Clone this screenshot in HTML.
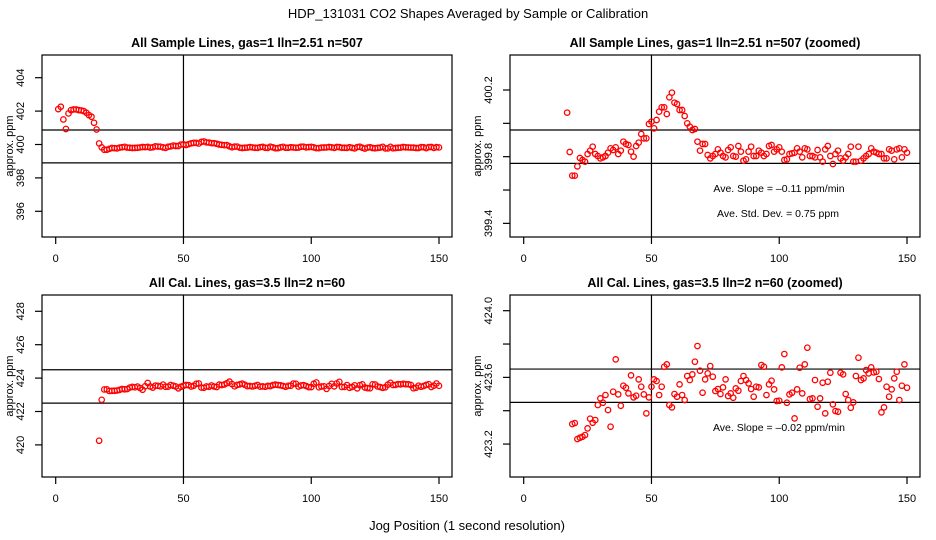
<!DOCTYPE html>
<html><head><meta charset="utf-8">
<style>
html,body{margin:0;padding:0;background:#fff;}
svg{display:block;font-family:"Liberation Sans",Arial,sans-serif;}
</style></head>
<body>
<svg id="chart" width="936" height="540" viewBox="0 0 936 540">
<text x="468" y="18" text-anchor="middle" font-size="13">HDP_131031  CO2 Shapes Averaged by Sample or Calibration</text>
<text x="467" y="530" text-anchor="middle" font-size="13">Jog Position (1 second resolution)</text>
</svg>
<script>
// ---- data ----
const xTicks = [0, 50, 100, 150];
const sampleHead = [402.12,402.26,401.5,400.93,401.86,402.06,402.1,402.1,402.06,402.04,402.0,401.9,401.76,401.66,401.3,400.9];
const sampleTail = [400.064,399.828,399.686,399.686,399.742,399.792,399.78,399.77,399.816,399.836,399.86,399.816,399.804,399.79,399.796,399.804,399.824,399.85,399.84,399.856,399.816,399.836,399.89,399.876,399.87,399.83,399.8,399.864,399.884,399.936,399.91,399.91,399.996,400.01,399.97,400.02,400.07,400.096,400.096,400.056,400.156,400.184,400.124,400.116,400.08,400.08,400.044,400.0,399.98,399.96,399.966,399.89,399.836,399.876,399.876,399.81,399.79,399.804,399.816,399.844,399.824,399.804,399.796,399.84,399.856,399.804,399.8,399.864,399.83,399.776,399.784,399.83,399.86,399.804,399.804,399.836,399.824,399.804,399.816,399.864,399.87,399.83,399.844,399.856,399.83,399.78,399.784,399.816,399.82,399.824,399.85,399.83,399.796,399.85,399.844,399.804,399.804,399.796,399.84,399.796,399.77,399.844,399.864,399.804,399.756,399.816,399.836,399.79,399.776,399.796,399.816,399.86,399.77,399.77,399.86,399.776,399.79,399.804,399.816,399.85,399.83,399.824,399.816,399.816,399.79,399.79,399.844,399.836,399.784,399.844,399.85,399.796,399.844,399.824];
const calHead = [420.25,422.7];
const calTail = [423.32,423.326,423.23,423.238,423.244,423.254,423.294,423.352,423.328,423.344,423.434,423.474,423.448,423.494,423.404,423.304,423.514,423.708,423.498,423.43,423.55,423.538,423.504,423.612,423.48,423.49,423.588,423.544,423.498,423.384,423.48,423.544,423.588,423.578,423.494,423.544,423.664,423.678,423.434,423.42,423.5,423.484,423.558,423.494,423.464,423.608,423.584,423.618,423.694,423.788,423.64,423.508,423.588,423.624,423.668,423.604,423.518,423.53,423.5,423.54,423.588,423.488,423.504,423.478,423.534,423.52,423.578,423.608,423.584,423.564,423.53,423.484,423.544,423.54,423.674,423.664,423.494,423.558,423.58,423.528,423.458,423.46,423.66,423.74,423.448,423.498,423.508,423.354,423.528,423.658,423.504,423.678,423.778,423.47,423.474,423.584,423.424,423.474,423.568,423.384,423.574,423.628,423.438,423.398,423.394,423.628,423.618,423.5,423.464,423.418,423.45,423.608,423.718,423.584,423.594,423.644,423.624,423.66,423.63,423.634,423.59,423.39,423.42,423.544,423.484,423.528,423.594,423.634,423.464,423.55,423.678,423.538];
const tlTicks = [404,402,400,398,396];
const trTicks = [400.2,400.0,399.8,399.6,399.4];
const trTickLabels = ["400.2","","399.8","","399.4"];
const blTicks = [428,426,424,422,420];
const brTicks = [424.0,423.8,423.6,423.4,423.2];
const brTickLabels = ["424.0","","423.6","","423.2"];
const tlRefLines = [400.87, 398.9];
const trRefLines = [399.96, 399.76];
const blRefLines = [424.5, 422.5];
const brRefLines = [423.65, 423.45];

const NS = "http://www.w3.org/2000/svg";
const svg = document.getElementById('chart');
function mk(tag, attrs, parent){ const e=document.createElementNS(NS,tag); for(const k in attrs) e.setAttribute(k,attrs[k]); (parent||svg).appendChild(e); return e; }

function panel(o){
  const g = mk('g',{});
  
  
  const L=o.left, R=L+410, T=o.top, B=T+182;
  const x0=L+13.7, xs=383.3/150;
  const sx = v => x0 + v*xs;
  const sy = v => o.yTop + (o.yTopVal - v)*o.yScale;
  const t = mk('text',{x:(L+R)/2, y:T-8, 'text-anchor':'middle','font-size':12.5,'font-weight':'bold'},g);
  t.textContent=o.title;
  
  
  const box = mk('rect',{x:L,y:T,width:R-L,height:B-T,fill:'none',stroke:'#000','stroke-width':1.2},g);
  
  
  xTicks.forEach(v=>{
    mk('line',{x1:sx(v),x2:sx(v),y1:B,y2:B+7,stroke:'#000','stroke-width':1.2},g);
    const tx=mk('text',{x:sx(v),y:B+25,'text-anchor':'middle','font-size':11},g);
    tx.textContent=v;
    
    
  });
  o.yTicks.forEach((v,i)=>{
    const y=sy(v);
    mk('line',{x1:L-7,x2:L,y1:y,y2:y,stroke:'#000','stroke-width':1.2},g);
    const lab = o.yLabels ? o.yLabels[i] : String(v);
    if(lab){
      const ty=mk('text',{x:0,y:0,'text-anchor':'middle','font-size':11,transform:`translate(${L-18},${y}) rotate(-90)`},g);
      ty.textContent=lab;
      
      
    }
  });
  const yl=mk('text',{x:0,y:0,'text-anchor':'middle','font-size':11,transform:`translate(${L-29},${(T+B)/2}) rotate(-90)`},g);
  yl.textContent='approx. ppm';
  
  
  o.refs.forEach(v=>{
    const l=mk('line',{x1:L,x2:R,y1:sy(v),y2:sy(v),stroke:'#000','stroke-width':1.2},g);
    
    
  });
  const vl=mk('line',{x1:sx(50),x2:sx(50),y1:T,y2:B,stroke:'#000','stroke-width':1.2},g);
  
  
  o.series.forEach(s=>{
    s.vals.forEach((v,i)=>{
      const y=sy(v);
      if(y<T||y>B) return;
      const c=mk('circle',{cx:sx(s.start+i),cy:y,r:2.7,fill:'none',stroke:'#f00','stroke-width':1.3},g);
      
      
    });
  });
  (o.notes||[]).forEach(n=>{
    const tn=mk('text',{x:n.x,y:n.y,'text-anchor':'middle','font-size':10.5},g);
    tn.textContent=n.text;
    
    
  });
}

panel({name:'panel-sample-lines',title:'All Sample Lines, gas=1 lln=2.51 n=507',left:42,top:55,
  yTop:77.7,yTopVal:404,yScale:16.7,yTicks:tlTicks,refs:tlRefLines,
  series:[{start:1,vals:sampleHead},{start:17,vals:sampleTail}]});
panel({name:'panel-sample-lines-zoomed',title:'All Sample Lines, gas=1 lln=2.51 n=507 (zoomed)',left:510,top:55,
  yTop:90,yTopVal:400.2,yScale:166.7,yTicks:trTicks,yLabels:trTickLabels,refs:trRefLines,
  series:[{start:17,vals:sampleTail}],
  notes:[{x:779,y:192,text:'Ave. Slope =  \u20130.11  ppm/min'},{x:778,y:217,text:'Ave. Std. Dev. =  0.75  ppm'}]});
panel({name:'panel-cal-lines',title:'All Cal. Lines, gas=3.5 lln=2 n=60',left:42,top:295,
  yTop:311.3,yTopVal:428,yScale:16.7,yTicks:blTicks,refs:blRefLines,
  series:[{start:17,vals:calHead},{start:19,vals:calTail}]});
panel({name:'panel-cal-lines-zoomed',title:'All Cal. Lines, gas=3.5 lln=2 n=60 (zoomed)',left:510,top:295,
  yTop:310.7,yTopVal:424.0,yScale:166.7,yTicks:brTicks,yLabels:brTickLabels,refs:brRefLines,
  series:[{start:19,vals:calTail}],
  notes:[{x:779,y:431,text:'Ave. Slope =  \u20130.02  ppm/min'}]});
</script>
</body></html>
